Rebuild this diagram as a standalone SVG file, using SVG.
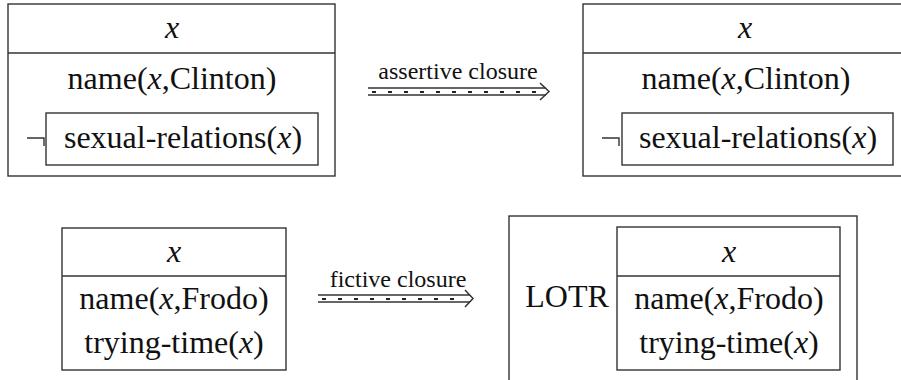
<svg xmlns="http://www.w3.org/2000/svg" width="901" height="380" viewBox="0 0 901 380">
<style>
.box{fill:none;stroke:#333;stroke-width:1.4}
.t{font-family:"Liberation Serif","Times New Roman",serif;font-size:32px;fill:#111;text-anchor:middle}
.i{font-style:italic}
.lab{font-family:"Liberation Serif","Times New Roman",serif;font-size:24px;fill:#111;text-anchor:middle}
.rail{stroke:#333;stroke-width:1.5;fill:none}
.dash{stroke:#222;stroke-width:1.8;stroke-dasharray:4 12;fill:none}
</style>
<rect width="901" height="380" fill="#fff"/>
<g id="drs-clinton">
<rect class="box" x="8" y="4" width="327" height="172"/>
<line class="box" x1="8" y1="53" x2="335" y2="53"/>
<text class="t i" x="172" y="38">x</text>
<text class="t" x="172" y="89">name(<tspan class="i">x</tspan>,Clinton)</text>
<path class="box" d="M27 138H44V146"/>
<rect class="box" x="46" y="113" width="272" height="52"/>
<text class="t" x="183" y="148">sexual-relations(<tspan class="i">x</tspan>)</text>
</g>
<g id="drs-clinton-closed">
<rect class="box" x="583" y="4" width="330" height="172"/>
<line class="box" x1="583" y1="53" x2="901" y2="53"/>
<text class="t i" x="745" y="38">x</text>
<text class="t" x="746" y="89">name(<tspan class="i">x</tspan>,Clinton)</text>
<path class="box" d="M602 138H619V146"/>
<rect class="box" x="622" y="113" width="271" height="52"/>
<text class="t" x="758" y="148">sexual-relations(<tspan class="i">x</tspan>)</text>
</g>
<g id="drs-frodo">
<rect class="box" x="62" y="228" width="224" height="142"/>
<line class="box" x1="62" y1="276" x2="286" y2="276"/>
<text class="t i" x="174" y="262">x</text>
<text class="t" x="174" y="309">name(<tspan class="i">x</tspan>,Frodo)</text>
<text class="t" x="174" y="353">trying-time(<tspan class="i">x</tspan>)</text>
</g>
<g id="drs-lotr">
<rect class="box" x="509" y="216" width="348" height="180"/>
<text class="t" x="567" y="307">LOTR</text>
<rect class="box" x="617" y="227" width="223" height="143"/>
<line class="box" x1="617" y1="276" x2="840" y2="276"/>
<text class="t i" x="729" y="262">x</text>
<text class="t" x="729" y="309">name(<tspan class="i">x</tspan>,Frodo)</text>
<text class="t" x="729" y="353">trying-time(<tspan class="i">x</tspan>)</text>
</g>
<g id="connectors">
<g id="assertive">
<line class="rail" x1="368" y1="88" x2="546" y2="88"/>
<line class="rail" x1="368" y1="95" x2="546" y2="95"/>
<line class="dash" x1="372" y1="92" x2="540" y2="92"/>
<path class="rail" d="M540 83L549 91.5L540 100"/>
<text class="lab" x="458" y="79">assertive closure</text>
</g>
<g id="fictive">
<line class="rail" x1="318" y1="295" x2="470" y2="295"/>
<line class="rail" x1="318" y1="302" x2="470" y2="302"/>
<line class="dash" x1="322" y1="299" x2="465" y2="299"/>
<path class="rail" d="M465 290L473 298.5L465 307"/>
<text class="lab" x="398" y="287">fictive closure</text>
</g>
</g>
</svg>
